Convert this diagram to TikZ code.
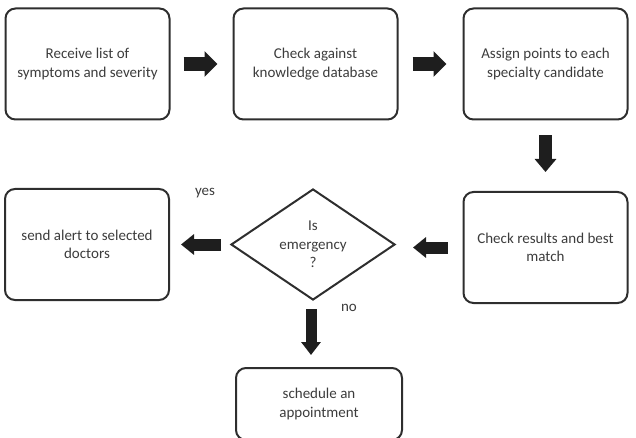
\documentclass[tikz,border=0pt]{standalone}
\usepackage{fontspec}
\setmainfont{Carlito}
\usetikzlibrary{shapes.geometric,arrows.meta}
\definecolor{boxline}{HTML}{2E2E2E}
\definecolor{txt}{HTML}{3C3C3C}
\definecolor{arr}{HTML}{1E1E1E}
\begin{document}
\begin{tikzpicture}[x=1pt,y=-1pt,
  stepbox/.style={draw=boxline, line width=2pt, rounded corners=10pt,
    minimum width=164pt, minimum height=111pt, align=center, text=txt,
    font=\fontsize{15}{18.5}\selectfont, inner sep=0pt},
  decision/.style={draw=boxline, line width=2pt, shape=diamond, aspect=1.48,
    minimum width=164pt, minimum height=111pt, align=center, text=txt,
    font=\fontsize{15}{18.5}\selectfont, inner sep=0pt},
  lbl/.style={text=txt, font=\fontsize{15}{18.5}\selectfont, inner sep=0pt},
  bigarrow/.style={draw=arr, line width=14pt, -{Triangle[width=25pt,length=13pt]}},
  smallarrow/.style={draw=arr, line width=12pt, -{Triangle[width=20pt,length=13pt]}}
]
\useasboundingbox (0,0) rectangle (636,438);
\clip (0,0) rectangle (636,438);
\node[stepbox] (b1) at (87.5,64) {Receive list of\\symptoms and severity};
\node[stepbox] (b2) at (315.5,64) {Check against\\knowledge database};
\node[stepbox] (b3) at (545.5,64) {Assign points to each\\specialty candidate};
\node[stepbox] (b4) at (545.5,247.5) {Check results and best\\match};
\node[decision] (d) at (313,244.5) {Is\\emergency\\?};
\node[stepbox] (b5) at (87,244.5) {send alert to selected\\doctors};
\node[stepbox, minimum width=166pt, minimum height=72pt] (b6) at (319,404) {schedule an\\appointment};
\node[lbl] (yes) at (205,193) {yes};
\node[lbl] (no) at (349,308) {no};

\draw[bigarrow, shorten <=13pt, shorten >=15pt] (b1.east) -- (b2.west);
\draw[bigarrow, shorten <=14pt, shorten >=16pt] (b2.east) -- (b3.west);
\draw[smallarrow, line width=13pt, -{Triangle[width=21pt,length=13pt]}, shorten <=15pt, shorten >=19pt] (b3.south) -- (b4.north);
\draw[smallarrow, shorten <=15pt, shorten >=17pt] (b4.west) -- (b4.west -| d.east);
\draw[smallarrow, shorten <=9pt, shorten >=11pt] (d.west) -- (b5.east);
\draw[smallarrow, line width=11pt, -{Triangle[width=19pt,length=13pt]}, shorten <=8pt, shorten >=12pt] ([xshift=-2pt]d.south) -- ([xshift=-2pt]d.south |- b6.north);
\end{tikzpicture}
\end{document}
